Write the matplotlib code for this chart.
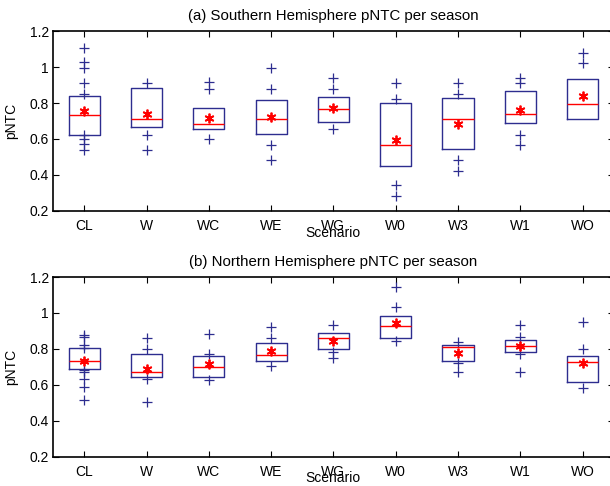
"""
pNTC per season, Southern vs Northern Hemisphere, boxplots per scenario
(MATLAB-style: box, median, mean star, every point outside the box as '+').
"""
import matplotlib
matplotlib.use("Agg")
import matplotlib.pyplot as plt

plt.rcParams["font.family"] = ["Liberation Sans", "DejaVu Sans"]

SCENARIOS = ["CL", "W", "WC", "WE", "WG", "W0", "W3", "W1", "WO"]

# (a) Southern Hemisphere
SH_Q1 = [0.624, 0.665, 0.654, 0.630, 0.694, 0.448, 0.546, 0.687, 0.709]
SH_MED = [0.735, 0.709, 0.681, 0.709, 0.767, 0.567, 0.709, 0.737, 0.793]
SH_Q3 = [0.841, 0.885, 0.772, 0.815, 0.835, 0.800, 0.830, 0.865, 0.935]
SH_MEAN = [0.757, 0.737, 0.719, 0.724, 0.770, 0.593, 0.681, 0.763, 0.839]
SH_OUT = [
    [1.104, 1.026, 0.993, 0.909, 0.850, 0.622, 0.598, 0.570, 0.539],
    [0.909, 0.622, 0.539],
    [0.919, 0.878, 0.598],
    [0.993, 0.878, 0.567, 0.481],
    [0.937, 0.878, 0.656],
    [0.909, 0.822, 0.343, 0.283],
    [0.909, 0.850, 0.481, 0.424],
    [0.941, 0.909, 0.622, 0.567],
    [1.076, 1.020],
]

# (b) Northern Hemisphere
NH_Q1 = [0.687, 0.642, 0.642, 0.732, 0.797, 0.860, 0.732, 0.782, 0.618]
NH_MED = [0.733, 0.670, 0.702, 0.765, 0.862, 0.930, 0.810, 0.815, 0.726]
NH_Q3 = [0.804, 0.771, 0.759, 0.834, 0.886, 0.986, 0.821, 0.847, 0.759]
NH_MEAN = [0.735, 0.691, 0.715, 0.787, 0.845, 0.942, 0.776, 0.815, 0.722]
NH_OUT = [
    [0.880, 0.865, 0.820, 0.805, 0.685, 0.670, 0.635, 0.590, 0.518],
    [0.860, 0.800, 0.631, 0.507],
    [0.884, 0.771, 0.627],
    [0.923, 0.860, 0.707],
    [0.934, 0.782, 0.752],
    [1.146, 1.036, 0.845],
    [0.836, 0.720, 0.670],
    [0.934, 0.867, 0.771, 0.670],
    [0.949, 0.799, 0.581],
]

BLUE = "#2d2d8f"
RED = "#ff0000"


def stats(q1, med, q3, mean, out):
    return [dict(q1=a, med=m, q3=b, mean=mu, whislo=a, whishi=b, fliers=f, label=s)
            for a, m, b, mu, f, s in zip(q1, med, q3, mean, out, SCENARIOS)]


def panel(ax, st, title):
    ax.bxp(st, positions=range(1, len(st) + 1), widths=0.5, showmeans=True,
           showcaps=False,
           boxprops=dict(color=BLUE, lw=1.0),
           whiskerprops=dict(color=BLUE, lw=1.0),
           medianprops=dict(color=RED, lw=1.0),
           meanprops=dict(marker=(6, 2, 0), markerfacecolor=RED, markeredgecolor=RED,
                          markersize=7, markeredgewidth=1.3),
           flierprops=dict(marker="+", markeredgecolor=BLUE, markersize=7,
                           markeredgewidth=0.9, linestyle="none"))
    ax.set_xlim(0.5, 9.5)
    ax.set_ylim(0.2, 1.2)
    ax.set_yticks([0.2, 0.4, 0.6, 0.8, 1.0, 1.2])
    ax.set_yticklabels(["0.2", "0.4", "0.6", "0.8", "1", "1.2"])
    ax.tick_params(direction="in", length=4, width=0.8, labelsize=10,
                   top=True, right=True)
    ax.tick_params(axis="x", pad=6)
    ax.tick_params(axis="y", pad=3)
    for sp in ax.spines.values():
        sp.set_linewidth(1.2)
    ax.set_xlabel("Scenario", fontsize=10)
    ax.xaxis.set_label_coords(0.5, -0.12)
    ax.xaxis.label.set_va("center")
    ax.set_ylabel("pNTC", fontsize=10)
    ax.yaxis.set_label_coords(-0.062, 0.5)
    ax.text(0.5, 1.086, title, transform=ax.transAxes, ha="center", va="center",
            fontsize=10.8)


fig = plt.figure(figsize=(6.10, 4.86), dpi=100)
ax_a = fig.add_axes([0.087, 0.566, 0.919, 0.370])
ax_b = fig.add_axes([0.087, 0.060, 0.919, 0.370])
panel(ax_a, stats(SH_Q1, SH_MED, SH_Q3, SH_MEAN, SH_OUT),
      "(a) Southern Hemisphere pNTC per season")
panel(ax_b, stats(NH_Q1, NH_MED, NH_Q3, NH_MEAN, NH_OUT),
      "(b) Northern Hemisphere pNTC per season")
fig.savefig("out.png", dpi=100)
